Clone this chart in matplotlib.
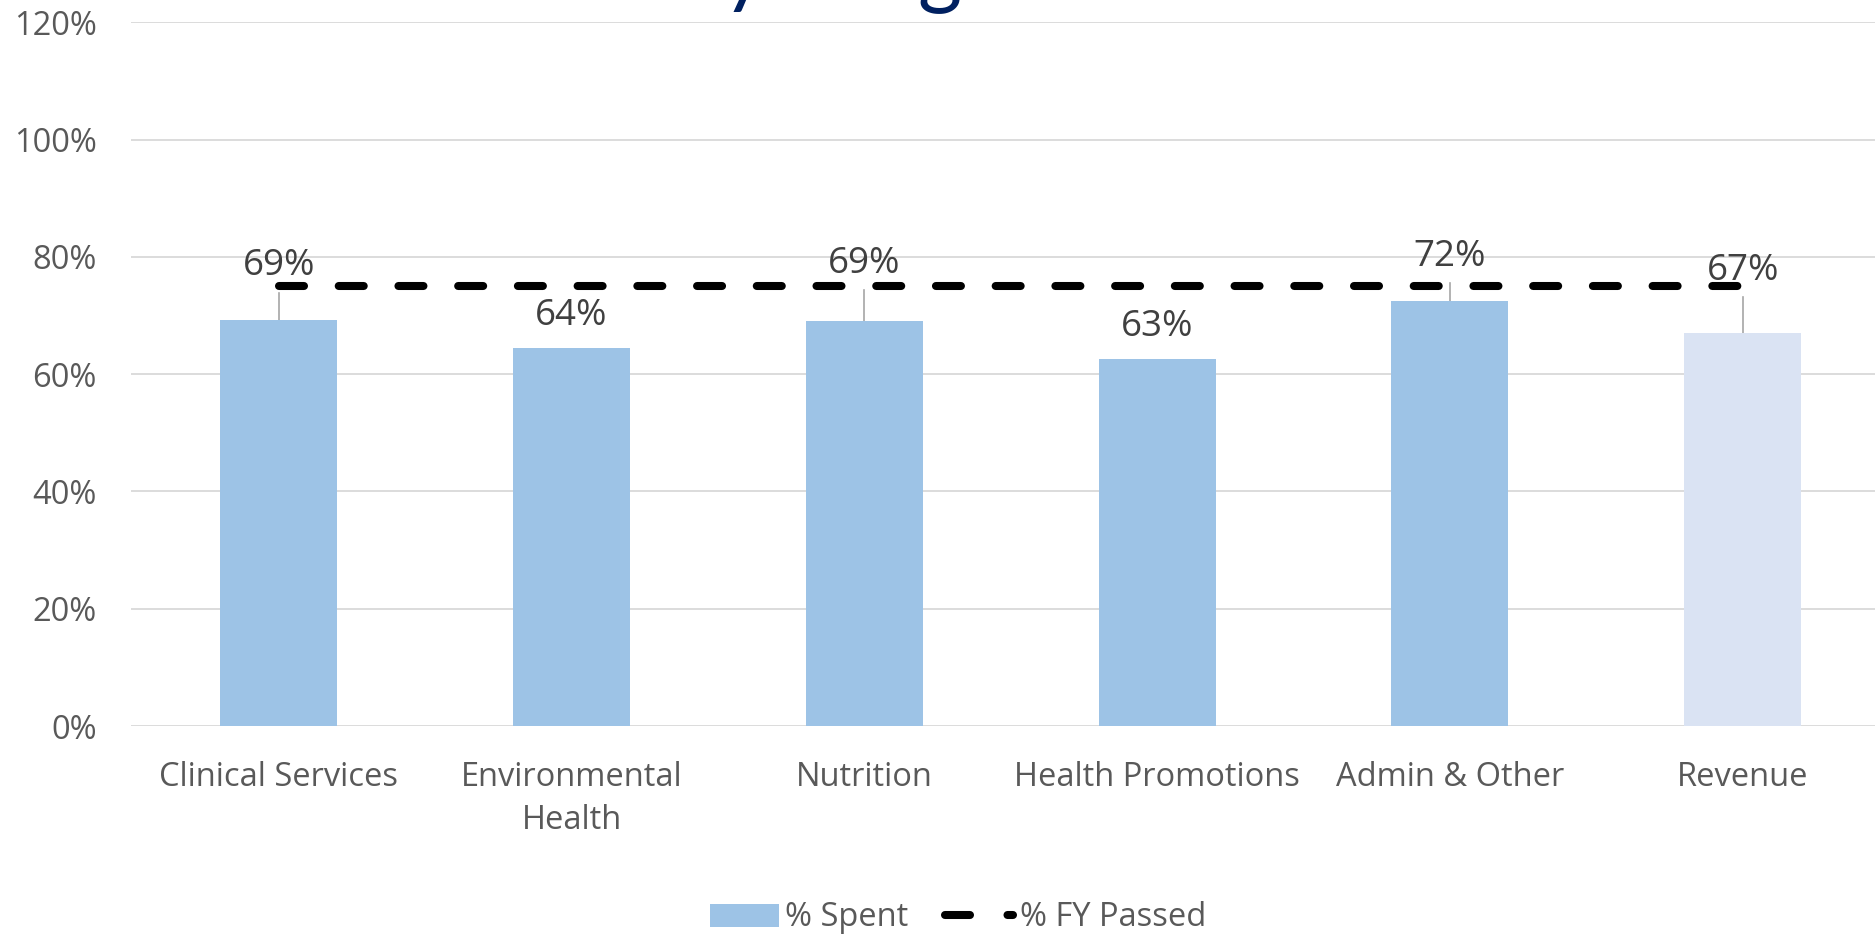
import matplotlib
matplotlib.use("Agg")
import matplotlib.pyplot as plt
from matplotlib.patches import Patch
from matplotlib.lines import Line2D

plt.rcParams['font.family'] = ['Open Sans', 'DejaVu Sans']
plt.rcParams['lines.scale_dashes'] = False

categories = ["Clinical Services", "Environmental\nHealth", "Nutrition",
              "Health Promotions", "Admin & Other", "Revenue"]
pct_spent = [0.693, 0.644, 0.690, 0.626, 0.725, 0.670]
pct_fy_passed = [0.75, 0.75, 0.75, 0.75, 0.75, 0.75]
yticks = [0, 0.2, 0.4, 0.6, 0.8, 1.0, 1.2]
ytick_labels = ["0%", "20%", "40%", "60%", "80%", "100%", "120%"]

# label placement (style): label centre heights and whether a leader line is drawn
label_y = [0.784, 0.70, 0.788, 0.681, 0.80, 0.776]
leader = [True, False, True, False, True, True]

bar_colors = ["#9DC3E6"] * 5 + ["#DAE3F3"]
text_col = "#595959"

fig = plt.figure(figsize=(18.75, 9.35), dpi=100)
ax = fig.add_axes([0.07, 0.2235, 0.93, 0.7525])
x = list(range(len(categories)))
ax.bar(x, pct_spent, width=0.4, color=bar_colors, zorder=2)
ax.plot(x, pct_fy_passed, color="black", lw=5.8, ls=(0, (18, 25)),
        solid_capstyle="round", dash_capstyle="round", zorder=3)

for xi, v, ly, ld in zip(x, pct_spent, label_y, leader):
    ax.text(xi, ly, f"{v*100:.0f}%", ha="center", va="center",
            fontsize=26.5, color="#404040", zorder=4)
    if ld:
        ax.plot([xi, xi], [v, ly - 0.045], color="#A6A6A6", lw=1.2, zorder=1)

ax.set_xlim(-0.504, 5.452)
ax.set_ylim(0, 1.2)
ax.set_yticks(yticks)
ax.set_yticklabels(ytick_labels)
ax.set_xticks(x)
ax.set_xticklabels(categories, linespacing=1.4)
ax.grid(axis="y", color="#D9D9D9", lw=1.3, zorder=0)
ax.set_axisbelow(True)
for s in ax.spines.values():
    s.set_visible(False)
ax.tick_params(axis="both", length=0, colors=text_col, labelsize=23.5)
ax.tick_params(axis="y", pad=25)
ax.tick_params(axis="x", pad=25)

handles = [Patch(facecolor="#9DC3E6"),
           Line2D([0], [0], color="black", lw=5.8, ls=(0, (18, 27)),
                  dash_capstyle="round")]
fig.legend(handles, ["% Spent", "% FY Passed"], loc="center",
           bbox_to_anchor=(0.511, 1 - 918 / 935), ncol=2, frameon=False,
           fontsize=23.5, labelcolor=text_col, handlelength=2.1,
           columnspacing=1.1, handletextpad=0.2)

fig.text(0.335, 1.0045, "Percent Used by Program", ha="center", va="baseline",
         fontsize=61, color="#002060", family="Lato")

fig.savefig("out.png", dpi=100)
